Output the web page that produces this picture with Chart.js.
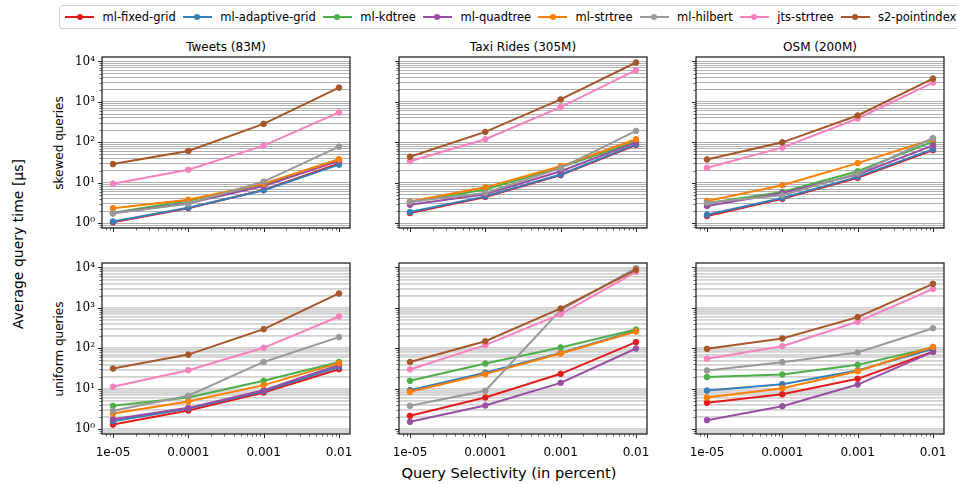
<!DOCTYPE html>
<html><head><meta charset="utf-8">
<script src="https://cdn.jsdelivr.net/npm/chart.js@4.4.1/dist/chart.umd.min.js"></script>
<style>
body{margin:0;width:957px;height:484px;position:relative;background:#fff;font-family:'DejaVu Sans',sans-serif;overflow:hidden}
canvas{position:absolute}
.t{position:absolute;white-space:nowrap;color:#000;transform:translate(-50%,-50%);line-height:1}
.r{transform:translate(-50%,-50%) rotate(-90deg)}
#legend{position:absolute;left:59px;top:5px;width:910px;height:24px;border:1px solid #d0d0d0;border-radius:3px;display:flex;align-items:center;padding-left:5px;box-sizing:border-box;font-size:11.5px;color:#000;white-space:nowrap;flex-wrap:nowrap}
.li{display:flex;align-items:center;margin-right:7px;flex-shrink:0;white-space:nowrap}
.sw{position:relative;width:29px;height:2px;margin-right:8.5px;flex-shrink:0}
.sw i{position:absolute;left:50%;top:50%;width:6px;height:6px;border-radius:50%;transform:translate(-50%,-50%)}
</style></head><body>
<div id="legend"></div>
<div id="texts"></div>
<script>
const seriesNames = ['ml-fixed-grid','ml-adaptive-grid','ml-kdtree','ml-quadtree','ml-strtree','ml-hilbert','jts-strtree','s2-pointindex'];
const seriesColors = ['#e41a1c','#377eb8','#4daf4a','#984ea3','#ff7f00','#999999','#f781bf','#a65628'];
const selectivity = [1e-5, 1e-4, 1e-3, 1e-2];
const xTickLabels = ['1e-05','0.0001','0.001','0.01'];
const yTickLabels = ['10\u2070','10\u00b9','10\u00b2','10\u00b3','10\u2074'];
const datasetTitles = ['Tweets (83M)','Taxi Rides (305M)','OSM (200M)'];
const queryTypes = ['skewed queries','uniform queries'];
const yAxisTitle = 'Average query time [\u00b5s]';
const xAxisTitle = 'Query Selectivity (in percent)';

// values per series (order as seriesNames), at each selectivity
const tweetsSkewed = [
  [1.05, 2.35, 6.6, 30],
  [1.1, 2.4, 6.5, 28],
  [1.8, 3.6, 9.2, 37.5],
  [1.75, 3.1, 8.3, 35],
  [2.35, 3.8, 9.5, 38],
  [1.75, 3.0, 10.7, 78],
  [9.5, 21, 83, 548],
  [29, 61, 286, 2250]
];
const taxiSkewed = [
  [1.78, 4.45, 15.4, 86],
  [1.88, 4.6, 16, 89],
  [3.3, 6.8, 24, 105],
  [2.85, 5.2, 19.3, 100],
  [3.45, 7.7, 25.7, 119],
  [3.4, 5.6, 23, 191],
  [34, 119, 744, 6090],
  [44, 181, 1150, 9440]
];
const osmSkewed = [
  [1.5, 4.0, 13.2, 64],
  [1.61, 4.2, 14, 68],
  [3.1, 5.9, 19.3, 104],
  [2.65, 5.6, 16, 84],
  [3.53, 8.7, 30.6, 119],
  [3.2, 4.9, 16.9, 128],
  [23.4, 74, 388, 3000],
  [37.7, 100, 461, 3775]
];
const tweetsUniform = [
  [1.3, 2.9, 8.1, 30.5],
  [1.58, 3.25, 8.7, 35],
  [3.78, 6.1, 15.7, 46],
  [1.77, 3.37, 9.2, 39],
  [2.44, 4.84, 12.3, 43],
  [2.84, 6.7, 46, 189],
  [11.2, 28.8, 103, 613],
  [31.7, 70, 298, 2275]
];
const taxiUniform = [
  [2.14, 6.1, 23.4, 142],
  [9.2, 24.8, 77, 271],
  [15.7, 42, 105, 292],
  [1.52, 3.85, 14, 99],
  [8.4, 23, 74.5, 261],
  [3.78, 8.9, 880, 9630],
  [30, 120, 700, 7810],
  [46, 150, 968, 8750]
];
const osmUniform = [
  [4.5, 7.3, 17.6, 82],
  [9.0, 13, 28.3, 97],
  [19.4, 22.5, 39, 105],
  [1.67, 3.7, 12.7, 82],
  [6.1, 10.3, 27.2, 109],
  [28.3, 45.5, 79, 315],
  [55, 113, 453, 2965],
  [97, 175, 590, 3945]
];
const panels = [[tweetsSkewed, taxiSkewed, osmSkewed],[tweetsUniform, taxiUniform, osmUniform]];

// layout
const colLeft = [102, 399, 696];
const rowTop = [57, 263];
const plotW = 248, plotH = 171;
const padL = 60, padT = 6, padR = 6, padB = 32;
const xMin = 7.15e-6, xMax = 0.0140;
const yMin = 0.76, yMax = 12900;

const isDecade = v => Math.abs(Math.log10(v) - Math.round(Math.log10(v))) < 1e-9;
function logTicks(min, max){
  const out = [];
  for (let e = Math.floor(Math.log10(min)); e <= Math.ceil(Math.log10(max)); e++){
    for (let m = 1; m <= 9; m++){
      const v = parseFloat((m * Math.pow(10, e)).toPrecision(6));
      if (v >= min && v <= max) out.push({value: v});
    }
  }
  return out;
}

const frameTicks = {
  id: 'frameTicks',
  afterDraw(chart){
    const {ctx, chartArea: a, scales: {x, y}} = chart;
    ctx.save();
    ctx.strokeStyle = '#262626';
    y.ticks.forEach(t => {
      const p = Math.round(y.getPixelForValue(t.value)) + 0.5;
      const major = isDecade(t.value);
      ctx.lineWidth = major ? 1 : 0.7;
      ctx.beginPath(); ctx.moveTo(a.left, p); ctx.lineTo(a.left - (major ? 4 : 2.5), p); ctx.stroke();
    });
    x.ticks.forEach(t => {
      const p = Math.round(x.getPixelForValue(t.value)) + 0.5;
      const major = isDecade(t.value);
      ctx.lineWidth = major ? 1 : 0.7;
      ctx.beginPath(); ctx.moveTo(p, a.bottom); ctx.lineTo(p, a.bottom + (major ? 4 : 2.5)); ctx.stroke();
    });
    ctx.lineWidth = 1.3;
    ctx.strokeRect(a.left, a.top, a.right - a.left, a.bottom - a.top);
    ctx.restore();
  }
};

function makeChart(row, col){
  const cv = document.createElement('canvas');
  const W = padL + plotW + padR, H = padT + plotH + padB;
  cv.width = W; cv.height = H;
  cv.style.left = (colLeft[col] - padL) + 'px';
  cv.style.top = (rowTop[row] - padT) + 'px';
  cv.style.width = W + 'px'; cv.style.height = H + 'px';
  document.body.appendChild(cv);
  const vals = panels[row][col];
  const datasets = vals.map((arr, i) => ({
    label: seriesNames[i],
    data: arr.map((v, j) => ({x: selectivity[j], y: v})),
    borderColor: seriesColors[i],
    backgroundColor: seriesColors[i],
    pointBackgroundColor: seriesColors[i],
    pointBorderColor: seriesColors[i],
    pointRadius: 2.8,
    pointBorderWidth: 1,
    borderWidth: 2,
    tension: 0,
    order: seriesNames.length - i
  }));
  const showY = col === 0, showX = row === 1;
  new Chart(cv, {
    type: 'line',
    data: {datasets},
    plugins: [frameTicks],
    options: {
      responsive: false, animation: false, devicePixelRatio: 1,
      layout: {padding: {top: padT, right: padR, left: 0, bottom: 0}},
      plugins: {legend: {display: false}, tooltip: {enabled: false}, title: {display: false}},
      scales: {
        x: {
          type: 'logarithmic', min: xMin, max: xMax,
          afterBuildTicks: s => { s.ticks = logTicks(xMin, xMax); },
          afterFit: s => { s.height = padB; s.paddingLeft = 0; s.paddingRight = 0; },
          grid: {display: false, drawTicks: false},
          border: {display: false},
          ticks: {
            autoSkip: false, maxRotation: 0, minRotation: 0, padding: 12,
            color: '#000', font: {family: 'DejaVu Sans', size: 12},
            callback: v => (showX && isDecade(v)) ? xTickLabels[Math.round(Math.log10(v)) + 5] : ''
          }
        },
        y: {
          type: 'logarithmic', min: yMin, max: yMax,
          afterBuildTicks: s => { s.ticks = logTicks(yMin, yMax); },
          afterFit: s => { s.width = padL; s.paddingTop = 0; s.paddingBottom = 0; },
          grid: {color: row === 0 ? '#b0b0b0' : '#d2d2d2', lineWidth: row === 0 ? 1 : 1.8, drawTicks: false},
          border: {display: false},
          ticks: {
            autoSkip: false, padding: 7,
            color: '#000', font: {family: 'DejaVu Serif', size: 12},
            callback: v => (showY && isDecade(v)) ? yTickLabels[Math.round(Math.log10(v))] : ''
          }
        }
      }
    }
  });
}
for (let r = 0; r < 2; r++) for (let c = 0; c < 3; c++) makeChart(r, c);

// legend
const lg = document.getElementById('legend');
seriesNames.forEach((n, i) => {
  const it = document.createElement('div'); it.className = 'li';
  it.innerHTML = `<span class="sw" style="background:${seriesColors[i]}"><i style="background:${seriesColors[i]}"></i></span><span>${n}</span>`;
  lg.appendChild(it);
});

// texts
const tx = document.getElementById('texts');
function addText(s, cx, cy, size, rot, fam){
  const d = document.createElement('div');
  d.className = 't' + (rot ? ' r' : '');
  d.textContent = s;
  d.style.left = cx + 'px'; d.style.top = cy + 'px'; d.style.fontSize = size + 'px';
  if (fam) d.style.fontFamily = fam;
  tx.appendChild(d);
}
datasetTitles.forEach((s, c) => addText(s, colLeft[c] + plotW / 2, 47, 12));
queryTypes.forEach((s, r) => addText(s, 59, rowTop[r] + plotH / 2, 12, true));
addText(yAxisTitle, 18, 244, 14, true);
addText(xAxisTitle, 509, 473, 14.6);
</script>
</body></html>
